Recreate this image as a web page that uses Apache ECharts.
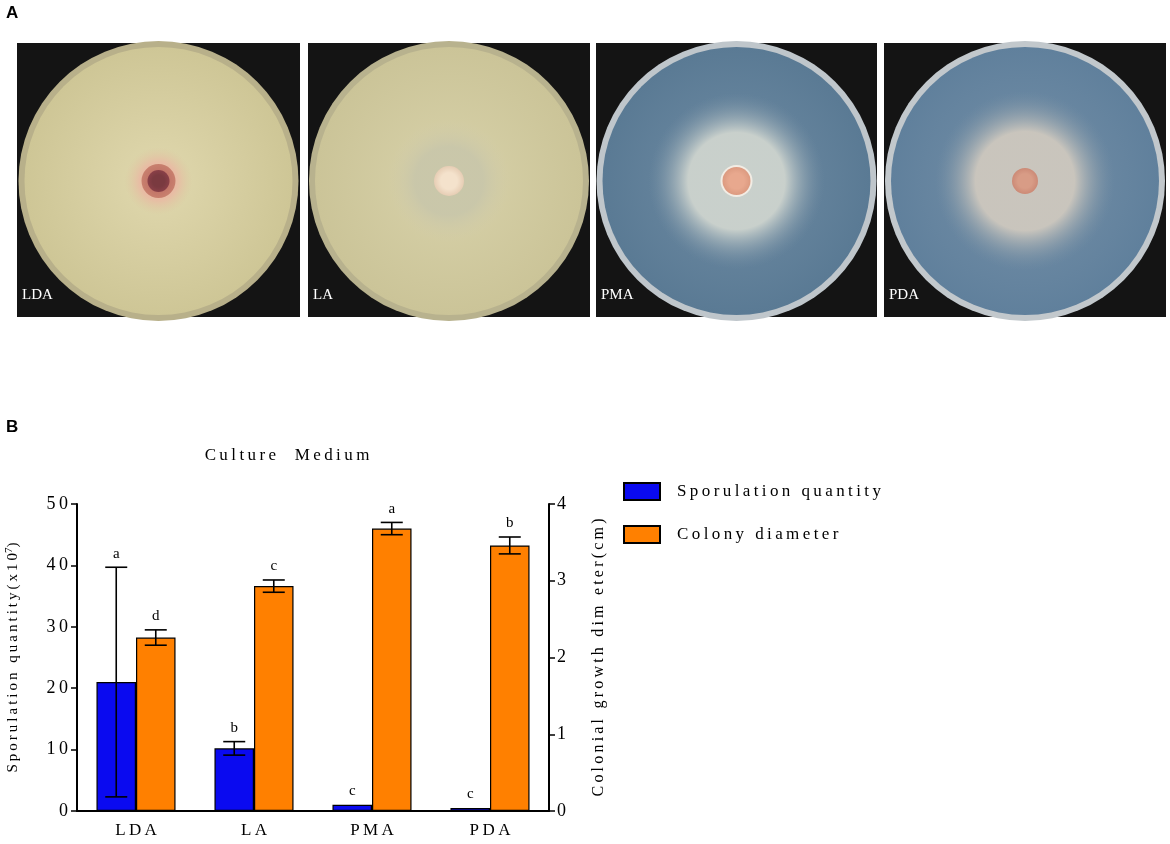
<!DOCTYPE html>
<html>
<head>
  <meta charset="utf-8">
  <title>Culture Medium</title>
  <script src="https://cdn.jsdelivr.net/npm/echarts@6/dist/echarts.min.js"></script>
  <style>
    html, body { margin: 0; padding: 0; background: #fff; }
    #main { width: 1170px; height: 844px; }
  </style>
</head>
<body>
<div id="main"></div>
<script type="text/javascript">
var myChart = echarts.init(document.getElementById('main'));

// chart values
var media = ['LDA', 'LA', 'PMA', 'PDA'];
var sporulation = [21.0, 10.2, 1.0, 0.5];
var sporulationErr = [18.7, 1.1, 0, 0];
var sporulationLetters = ['a', 'b', 'c', 'c'];
var diameter = [2.26, 2.93, 3.68, 3.46];
var diameterErr = [0.10, 0.08, 0.08, 0.11];
var diameterLetters = ['d', 'c', 'a', 'b'];
var leftTicks = [0, 10, 20, 30, 40, 50];
var rightTicks = [0, 1, 2, 3, 4];

var SERIF = "'Liberation Serif', 'Times New Roman', serif";
var GAP = 0.33;

// the figure typesets its words with wide letter spacing
function spaced(s) {
  return s.split('').join('\u2009');
}

function errData(vals, errs) {
  return vals.map(function (v, i) {
    return [i, v, errs[i]];
  });
}

function errorBar(side, letters) {
  return function (params, api) {
    var ci = api.value(0);
    var v = api.value(1);
    var e = api.value(2);
    var band = api.size([1, 0])[0];
    var bw = band * (1 - GAP) / 2;
    var off = side * bw / 2;
    var top = api.coord([ci, v + e]);
    var bot = api.coord([ci, v - e]);
    var x = top[0] + off;
    var cap = 11;
    var ls = { stroke: '#000', lineWidth: 1.6 };
    var children = [];
    if (e > 0) {
      children.push(
        { type: 'line', shape: { x1: x, y1: top[1], x2: x, y2: bot[1] }, style: ls },
        { type: 'line', shape: { x1: x - cap, y1: top[1], x2: x + cap, y2: top[1] }, style: ls },
        { type: 'line', shape: { x1: x - cap, y1: bot[1], x2: x + cap, y2: bot[1] }, style: ls }
      );
    }
    children.push({
      type: 'text',
      style: {
        x: x, y: top[1] - 6,
        text: letters[params.dataIndex],
        fill: '#000',
        font: '15px ' + SERIF,
        align: 'center',
        verticalAlign: 'bottom'
      }
    });
    return { type: 'group', children: children };
  };
}

// --- panel A: drawn stand-ins for the plate photographs ---
var plates = [
  { x: 17, w: 283, agar: ['#e0d8ae', '#cec696'], rim: '#b8b08a', name: 'LDA',
    rings: [[34, 'rgba(232,188,164,1)', 'rgba(220,200,160,0)'], [17, '#c27468', '#c8806e'], [11, '#7a3a40', '#8a4048']] },
  { x: 308, w: 282, agar: ['#d8d2aa', '#cbc498'], rim: '#b8b28e', name: 'LA',
    rings: [[62, 'rgba(200,198,170,0.9)', 'rgba(210,204,168,0)'], [15, '#f4e2cc', '#e6cdb4']] },
  { x: 596, w: 281, agar: ['#6f8ca4', '#5a7a94'], rim: '#bfc6cb', name: 'PMA',
    rings: [[88, 'rgba(206,212,206,0.95)', 'rgba(120,145,165,0)'], [16, '#f2ece4', '#f2ece4'], [14, '#e8a88e', '#dc9a80']] },
  { x: 884, w: 282, agar: ['#7590a8', '#60809c'], rim: '#c2c8cc', name: 'PDA',
    rings: [[90, 'rgba(206,200,190,0.95)', 'rgba(120,145,165,0)'], [13, '#d89c86', '#cc8a76']] }
];

var graphics = [
  { type: 'text', left: 6, top: 5, style: { text: 'A', font: 'bold 17px Arial, sans-serif', fill: '#000' } },
  { type: 'text', left: 6, top: 419, style: { text: 'B', font: 'bold 17px Arial, sans-serif', fill: '#000' } }
];

plates.forEach(function (p) {
  var cx = p.x + p.w / 2;
  var cy = 181;
  graphics.push({ type: 'rect', shape: { x: p.x, y: 43, width: p.w, height: 274 }, style: { fill: '#141414' } });
  graphics.push({ type: 'circle', shape: { cx: cx, cy: cy, r: 140 }, style: { fill: p.rim } });
  graphics.push({
    type: 'circle', shape: { cx: cx, cy: cy, r: 134 },
    style: {
      fill: { type: 'radial', x: 0.5, y: 0.5, r: 0.5,
        colorStops: [{ offset: 0, color: p.agar[0] }, { offset: 1, color: p.agar[1] }] }
    }
  });
  p.rings.forEach(function (rg) {
    graphics.push({
      type: 'circle', shape: { cx: cx, cy: cy, r: rg[0] },
      style: {
        fill: { type: 'radial', x: 0.5, y: 0.5, r: 0.5,
          colorStops: [{ offset: 0, color: rg[1] }, { offset: 0.55, color: rg[1] }, { offset: 1, color: rg[2] }] }
      }
    });
  });
  graphics.push({
    type: 'text', left: p.x + 5, top: 288,
    style: { text: p.name, font: '15px ' + SERIF, fill: '#fff' }
  });
});

var option = {
  backgroundColor: '#ffffff',
  animation: false,
  title: {
    text: spaced('Culture  Medium'),
    left: 282,
    top: 442,
    textAlign: 'center',
    textStyle: { fontFamily: SERIF, fontSize: 17, fontWeight: 'normal', color: '#000' }
  },
  legend: {
    orient: 'vertical',
    left: 618,
    top: 477,
    itemWidth: 36,
    itemHeight: 17,
    itemGap: 24,
    icon: 'rect',
    data: ['Sporulation quantity', 'Colony diameter'],
    formatter: function (n) { return spaced(n); },
    textStyle: { fontFamily: SERIF, fontSize: 17, color: '#000', padding: [0, 0, 0, 12] }
  },
  grid: { left: 77, right: 621, top: 504, bottom: 33 },
  xAxis: {
    type: 'category',
    data: media,
    axisLine: { lineStyle: { color: '#000', width: 2 } },
    axisTick: { show: false },
    axisLabel: {
      margin: 11,
      fontFamily: SERIF, fontSize: 17, color: '#000',
      formatter: function (v) { return spaced(v); }
    }
  },
  yAxis: [{
    type: 'value',
    min: 0, max: 50, interval: 10,
    name: '{t|' + spaced('Sporulation quantity(x10') + '}{s|7}{t|)}',
    nameLocation: 'middle',
    nameRotate: 90,
    nameGap: 54,
    nameTextStyle: {
      rich: {
        t: { fontFamily: SERIF, fontSize: 15, color: '#000' },
        s: { fontFamily: SERIF, fontSize: 11, color: '#000', verticalAlign: 'top', padding: [0, 0, 8, 0] }
      }
    },
    splitLine: { show: false },
    axisLine: { show: true, lineStyle: { color: '#000', width: 2 } },
    axisTick: { show: true, length: 6, lineStyle: { color: '#000', width: 1.5 } },
    axisLabel: {
      margin: 9,
      fontFamily: SERIF, fontSize: 18, color: '#000',
      formatter: function (v) { return leftTicks.indexOf(v) >= 0 ? spaced(String(v)) : ''; }
    }
  }, {
    type: 'value',
    min: 0, max: 4, interval: 1,
    position: 'right',
    name: spaced('Colonial growth dim eter(cm)'),
    nameLocation: 'middle',
    nameRotate: 90,
    nameGap: 42,
    nameTextStyle: { fontFamily: SERIF, fontSize: 16, color: '#000' },
    splitLine: { show: false },
    axisLine: { show: true, lineStyle: { color: '#000', width: 2 } },
    axisTick: { show: true, length: 6, lineStyle: { color: '#000', width: 1.5 } },
    axisLabel: {
      margin: 8,
      fontFamily: SERIF, fontSize: 18, color: '#000',
      formatter: function (v) { return rightTicks.indexOf(v) >= 0 ? String(v) : ''; }
    }
  }],
  graphic: graphics,
  series: [{
    name: 'Sporulation quantity',
    type: 'bar',
    yAxisIndex: 0,
    barGap: '0%',
    barCategoryGap: (GAP * 100) + '%',
    itemStyle: { color: '#0a0af0', borderColor: '#000', borderWidth: 1.2 },
    data: sporulation
  }, {
    name: 'Colony diameter',
    type: 'bar',
    yAxisIndex: 1,
    barGap: '0%',
    barCategoryGap: (GAP * 100) + '%',
    itemStyle: { color: '#ff8000', borderColor: '#000', borderWidth: 1.2 },
    data: diameter
  }, {
    type: 'custom',
    yAxisIndex: 0,
    z: 5,
    renderItem: errorBar(-1, sporulationLetters),
    data: errData(sporulation, sporulationErr)
  }, {
    type: 'custom',
    yAxisIndex: 1,
    z: 5,
    renderItem: errorBar(1, diameterLetters),
    data: errData(diameter, diameterErr)
  }]
};

myChart.setOption(option);
</script>
</body>
</html>
